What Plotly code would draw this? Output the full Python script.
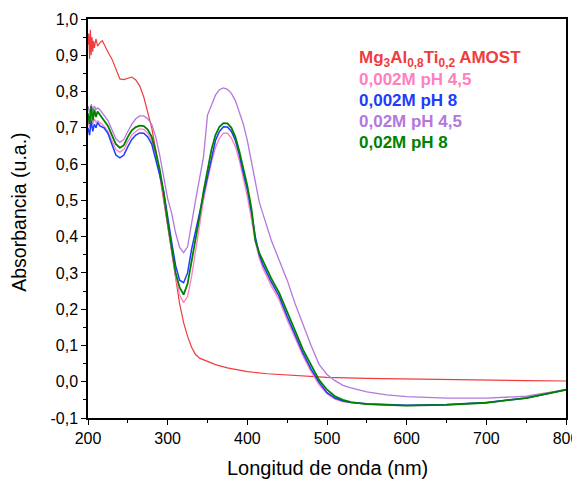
import plotly.graph_objects as go

# ---------------- data ----------------
wl_ref = [200, 201, 202, 203, 204, 205, 206, 207, 208, 210, 212, 215, 218, 222, 226, 230, 235, 240,
          245, 250, 255, 260, 265, 270, 275, 280, 285, 290, 295, 300, 305, 310, 315, 320, 325, 330,
          335, 340, 350, 360, 375, 400, 425, 450, 475, 500, 550, 600, 650, 700, 750, 800]
abs_ref = [0.93, 0.96, 0.89, 0.97, 0.90, 0.95, 0.91, 0.94, 0.92, 0.945, 0.925, 0.935, 0.94, 0.92,
           0.905, 0.89, 0.86, 0.835, 0.833, 0.836, 0.84, 0.832, 0.815, 0.785, 0.745, 0.70, 0.64,
           0.575, 0.50, 0.43, 0.36, 0.29, 0.215, 0.163, 0.125, 0.095, 0.075, 0.065, 0.055, 0.047,
           0.038, 0.028, 0.022, 0.018, 0.015, 0.012, 0.009, 0.007, 0.005, 0.004, 0.003, 0.002]

wl = [200, 202, 204, 206, 208, 210, 212, 215, 220, 225, 230, 235, 240, 245, 250, 255, 260, 265,
      270, 275, 280, 285, 290, 295, 300, 305, 310, 315, 320, 325, 330, 335, 340, 345, 350, 355,
      360, 365, 370, 375, 380, 385, 390, 395, 400, 405, 410, 415, 420, 430, 440, 450, 460, 470,
      480, 490, 500, 510, 520, 530, 550, 575, 600, 650, 700, 750, 800]

abs_002_45 = [0.72, 0.70, 0.73, 0.71, 0.725, 0.715, 0.72, 0.715, 0.705, 0.69, 0.665, 0.64, 0.633,
              0.64, 0.662, 0.68, 0.69, 0.697, 0.696, 0.685, 0.665, 0.625, 0.575, 0.51, 0.43, 0.355,
              0.29, 0.24, 0.218, 0.235, 0.29, 0.36, 0.43, 0.50, 0.555, 0.605, 0.645, 0.672, 0.685,
              0.685, 0.672, 0.648, 0.61, 0.56, 0.51, 0.45, 0.385, 0.34, 0.31, 0.265, 0.225, 0.17,
              0.12, 0.07, 0.028, -0.008, -0.033, -0.048, -0.055, -0.058, -0.062, -0.065, -0.066,
              -0.064, -0.058, -0.045, -0.022]

abs_002_8 = [0.70, 0.68, 0.72, 0.69, 0.71, 0.70, 0.715, 0.705, 0.70, 0.685, 0.655, 0.625, 0.617,
             0.625, 0.648, 0.668, 0.68, 0.686, 0.685, 0.675, 0.655, 0.615, 0.57, 0.525, 0.45, 0.385,
             0.32, 0.28, 0.273, 0.30, 0.365, 0.415, 0.465, 0.52, 0.565, 0.62, 0.665, 0.69, 0.703,
             0.702, 0.69, 0.665, 0.625, 0.575, 0.53, 0.47, 0.40, 0.35, 0.32, 0.275, 0.235, 0.18,
             0.13, 0.078, 0.035, -0.002, -0.03, -0.045, -0.053, -0.057, -0.061, -0.064, -0.065,
             -0.063, -0.057, -0.045, -0.022]

abs_02_45 = [0.76, 0.74, 0.765, 0.745, 0.76, 0.75, 0.755, 0.75, 0.735, 0.72, 0.695, 0.67, 0.66,
             0.668, 0.69, 0.71, 0.725, 0.733, 0.733, 0.725, 0.71, 0.675, 0.625, 0.57, 0.505, 0.465,
             0.41, 0.37, 0.356, 0.372, 0.44, 0.50, 0.56, 0.62, 0.735, 0.765, 0.79, 0.805, 0.81,
             0.806, 0.795, 0.775, 0.745, 0.71, 0.665, 0.61, 0.545, 0.495, 0.46, 0.39, 0.335, 0.28,
             0.215, 0.155, 0.10, 0.048, 0.02, 0.003, -0.01, -0.017, -0.028, -0.036, -0.041, -0.045,
             -0.045, -0.04, -0.022]

abs_02_8 = [0.74, 0.71, 0.76, 0.72, 0.75, 0.73, 0.745, 0.735, 0.72, 0.705, 0.68, 0.655, 0.645,
            0.652, 0.675, 0.693, 0.702, 0.706, 0.705, 0.695, 0.675, 0.635, 0.585, 0.52, 0.44, 0.37,
            0.30, 0.26, 0.24, 0.27, 0.33, 0.40, 0.455, 0.525, 0.585, 0.64, 0.68, 0.703, 0.713,
            0.712, 0.70, 0.675, 0.635, 0.585, 0.54, 0.48, 0.39, 0.355, 0.33, 0.285, 0.245, 0.19,
            0.14, 0.088, 0.045, 0.005, -0.022, -0.04, -0.05, -0.056, -0.062, -0.065, -0.066,
            -0.064, -0.058, -0.045, -0.022]

labels = ["Mg<sub>3</sub>Al<sub>0,8</sub>Ti<sub>0,2</sub> AMOST", "0,002M pH 4,5", "0,002M pH 8",
          "0,02M pH 4,5", "0,02M pH 8"]
x_title = "Longitud de onda (nm)"
y_title = "Absorbancia (u.a.)"
x_ticks = [200, 300, 400, 500, 600, 700, 800]
y_ticks = [-0.1, 0.0, 0.1, 0.2, 0.3, 0.4, 0.5, 0.6, 0.7, 0.8, 0.9, 1.0]
y_tick_text = ["-0,1", "0,0", "0,1", "0,2", "0,3", "0,4", "0,5", "0,6", "0,7", "0,8", "0,9", "1,0"]

colors = ["#F03C3C", "#FF80C0", "#1E3CFF", "#B478DC", "#008200"]
widths = [1.2, 1.3, 1.5, 1.3, 1.8]

# ---------------- figure ----------------
fig = go.Figure()
series = [(wl_ref, abs_ref), (wl, abs_002_45), (wl, abs_002_8), (wl, abs_02_45), (wl, abs_02_8)]
for (xs, ys), c, w, name in zip(series, colors, widths, labels):
    fig.add_trace(go.Scatter(x=xs, y=ys, mode="lines", line=dict(color=c, width=w),
                             name=name, showlegend=False))

for i, (name, c) in enumerate(zip(labels, colors)):
    fig.add_annotation(x=0.562, y=0.90 - i * 0.0526, xref="paper", yref="paper",
                       xanchor="left", yanchor="middle", showarrow=False,
                       text="<b>" + name + "</b>", font=dict(color=c, size=17))

# axis titles placed as annotations for exact positioning
fig.add_annotation(x=0.5, y=-0.125, xref="paper", yref="paper", xanchor="center",
                   yanchor="middle", showarrow=False, text=x_title,
                   font=dict(size=20, color="black"))
fig.add_annotation(x=-0.146, y=0.515, xref="paper", yref="paper", xanchor="center",
                   yanchor="middle", showarrow=False, text=y_title, textangle=-90,
                   font=dict(size=19.5, color="black"))

axis_common = dict(showline=True, linecolor="black", linewidth=1.5, mirror=True,
                   ticks="outside", ticklen=5, tickwidth=1.3, tickcolor="black",
                   showgrid=False, zeroline=False, automargin=False,
                   tickfont=dict(size=16, color="black"),
                   minor=dict(ticks="outside", ticklen=3, tickwidth=1.2, tickcolor="black"))

fig.update_xaxes(range=[200, 800], tickvals=x_ticks, minor_dtick=50, **axis_common)
fig.update_yaxes(range=[-0.1, 1.0], tickvals=y_ticks, ticktext=y_tick_text,
                 minor_dtick=0.05, **axis_common)

# page body has an 8px margin: shrink figure so it fits the 580x479 window
fig.update_layout(width=572, height=471, margin=dict(l=80, r=14, t=11, b=61),
                  plot_bgcolor="white", paper_bgcolor="white",
                  font=dict(family="Liberation Sans, Arial, sans-serif", color="black"))

fig.write_html("out.html")
